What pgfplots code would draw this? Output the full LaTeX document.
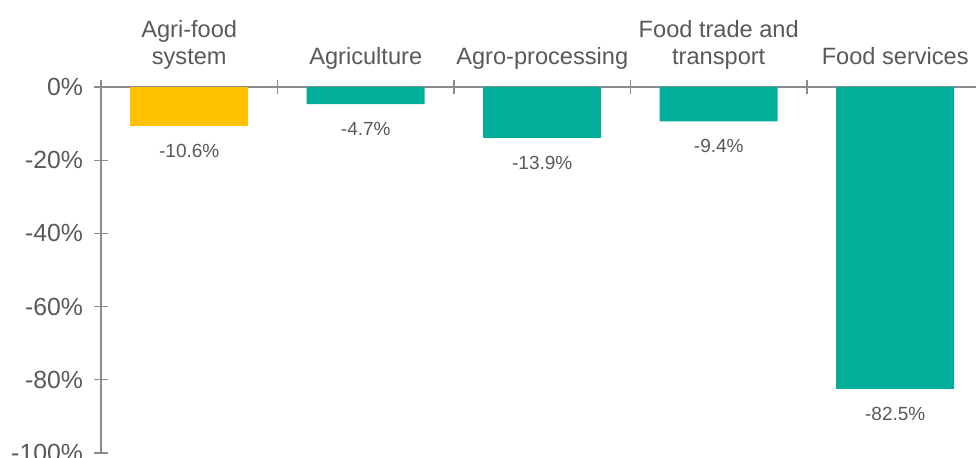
\documentclass[border=0pt]{standalone}
\usepackage{pgfplots}
\pgfplotsset{compat=1.18}
\usepackage{fontspec}
\setmainfont{Liberation Sans}
\definecolor{txt}{RGB}{89,89,89}
\definecolor{axgray}{RGB}{140,140,140}
\definecolor{gold}{RGB}{255,192,0}
\definecolor{teal}{RGB}{0,174,154}
\begin{document}
\begin{tikzpicture}
\begin{axis}[
  scale only axis,
  width=441.25pt, height=183pt,
  xmin=-0.5, xmax=4.5,
  ymin=-100, ymax=0,
  axis x line*=top,
  axis y line*=left,
  axis line style={axgray, line width=0.6pt},
  tick align=outside,
  major tick length=7pt,
  x tick style={axgray, line width=0.6pt, yshift=-3.5pt},
  y tick style={axgray, line width=0.6pt, xshift=3.5pt},
  xtick={-0.5,0.5,1.5,2.5,3.5,4.5},
  xticklabels={},
  extra x ticks={0,1,2,3,4},
  extra x tick labels={{Agri-food\\system\strut},Agriculture\strut,Agro-processing\strut,{Food trade and\\transport\strut},Food services\strut},
  extra x tick style={major tick length=0pt, tick style={draw=none},
    xticklabel style={align=center, anchor=south, font=\fontsize{11.8}{13.5}\selectfont, text=txt, yshift=3.5pt}},
  ytick={-100,-80,-60,-40,-20,0},
  yticklabels={-100\%,-80\%,-60\%,-40\%,-20\%,0\%},
  yticklabel style={font=\fontsize{12.4}{14}\selectfont, text=txt, xshift=1.5pt},
  ybar, bar width=59pt, bar shift=0pt,
  point meta=explicit symbolic,
  nodes near coords,
  every node near coord/.append style={anchor=north, yshift=-5.5pt, font=\fontsize{9.5}{11}\selectfont, text=txt},
  clip=false,
]
\addplot[fill=gold, draw=none] coordinates {(0,-10.6) [-10.6\%]};
\addplot[fill=teal, draw=none] coordinates {(1,-4.7) [-4.7\%] (2,-13.9) [-13.9\%] (3,-9.4) [-9.4\%] (4,-82.5) [-82.5\%]};
\end{axis}
\pgfresetboundingbox
\useasboundingbox (-50.5pt,-2.5pt) rectangle (437.5pt,226.5pt);
\end{tikzpicture}
\end{document}
